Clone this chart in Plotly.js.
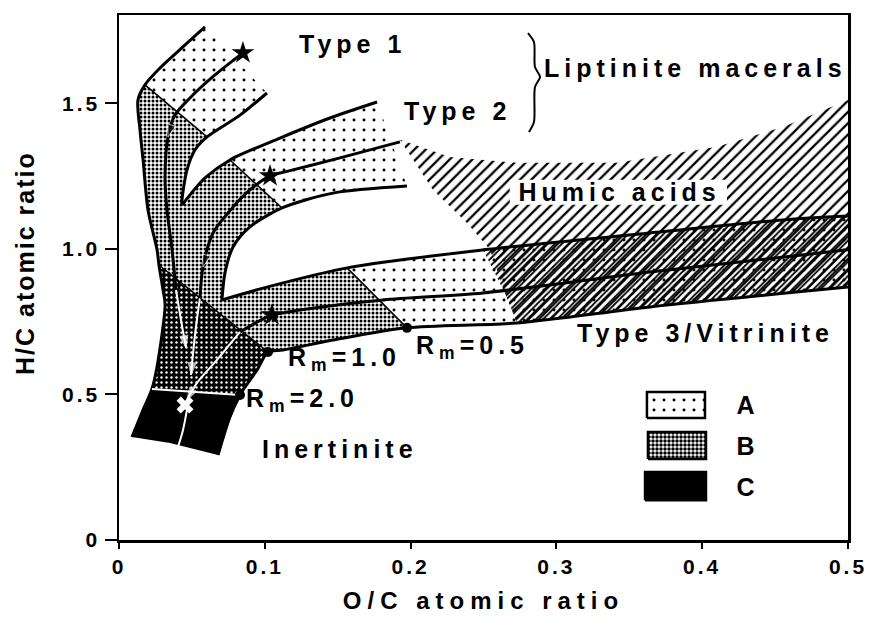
<!DOCTYPE html>
<html><head><meta charset="utf-8">
<script src="https://cdn.plot.ly/plotly-3.0.1.min.js"></script>
<style>
html,body{margin:0;padding:0;background:#fff;}
#chart{width:869px;height:626px;}
#chart .annotation-text{letter-spacing:5px;}
#chart .annotation[data-index="0"] .annotation-text{letter-spacing:2px;}
#chart .xtick text,#chart .ytick text{letter-spacing:3px;}
#chart .g-xtitle text{letter-spacing:6px;}
</style></head><body><div id="chart"></div>
<script>
// ---- boundary curves of the maturation bands (O/C, H/C) ----
const t1OuterX = [0.0590,0.0453,0.0281,0.0178,0.0130,0.0144,0.0165,0.0199,0.0261,0.0274,0.0302,0.0316,0.0261,0.0226,0.0165,0.0089];
const t1OuterY = [1.763,1.701,1.622,1.564,1.512,1.409,1.306,1.134,0.997,0.945,0.859,0.808,0.595,0.519,0.447,0.354];
const t1InnerX = [0.1015,0.0830,0.0604,0.0521,0.0466,0.0432,0.0432];
const t1InnerY = [1.536,1.460,1.385,1.340,1.271,1.168,1.151];
const t2UpperX = [0.1770,0.1447,0.1104,0.0761,0.0590,0.0487,0.0432];
const t2UpperY = [1.505,1.450,1.381,1.306,1.244,1.186,1.151];
const t2LowerX = [0.1975,0.1468,0.1118,0.0898,0.0782,0.0727,0.0706];
const t2LowerY = [1.216,1.192,1.141,1.076,1.007,0.918,0.825];
const t3UpperX = [0.0706,0.1015,0.1564,0.2497,0.3642,0.4554,0.5];
const t3UpperY = [0.825,0.869,0.935,0.997,1.055,1.100,1.113];
const t3LowerX = [0.5,0.3642,0.2730,0.1975,0.1468,0.1125,0.1022,0.0947,0.0850,0.0830,0.0761,0.0679];
const t3LowerY = [0.869,0.801,0.746,0.729,0.687,0.653,0.646,0.584,0.515,0.498,0.423,0.292];
const blackBottomX = [0.0350];
const blackBottomY = [0.333];
const bandHatchEdgeX = [0.2647];
const bandHatchEdgeY = [0.849];

// ---- evolution paths ----
const t1PathX = [0.0850,0.0658,0.0487,0.0384,0.0336,0.0316,0.0329,0.0364,0.0391];
const t1PathY = [1.674,1.598,1.519,1.460,1.385,1.247,1.134,0.997,0.859];
const t1PathLowX = [0.0391,0.0425,0.0460];
const t1PathLowY = [0.859,0.756,0.660];
const t2PathX = [0.1927,0.1516,0.1139,0.1036,0.0898,0.0782,0.0645,0.0576,0.0556];
const t2PathY = [1.368,1.313,1.265,1.251,1.203,1.144,1.055,0.938,0.835];
const t2PathLowX = [0.0556,0.0521,0.0494];
const t2PathLowY = [0.835,0.704,0.567];
const t3PathX = [0.5,0.3642,0.2497,0.1811,0.1241,0.1036,0.0830];
const t3PathY = [0.997,0.921,0.849,0.825,0.790,0.770,0.715];
const t3PathLowX = [0.0830,0.0672,0.0535,0.0466];
const t3PathLowY = [0.715,0.619,0.540,0.481];
const endPathX = [0.0466,0.0439,0.0405];
const endPathY = [0.447,0.378,0.320];

// ---- iso-reflectance (Rm) cross lines ----
const crossL1aX = [0.0178,0.0604], crossL1aY = [1.564,1.385];
const crossL1bX = [0.0761,0.1118], crossL1bY = [1.306,1.141];
const crossL1cX = [0.1564,0.1975], crossL1cY = [0.935,0.729];
const crossL2X = [0.0274,0.1022],  crossL2Y = [0.945,0.646];
const crossL3X = [0.0226,0.0830],  crossL3Y = [0.519,0.498];

// ---- humic acids field ----
const humicX = [0.1927,0.2270,0.2730,0.3416,0.4102,0.4554,0.5,0.5,0.3642,0.2730,0.2647,0.2545,0.2387,0.2154];
const humicY = [1.375,1.316,1.296,1.296,1.351,1.419,1.512,0.869,0.801,0.746,0.849,0.997,1.089,1.203];

// ---- markers ----
const starX = [0.0850,0.1036,0.1049];
const starY = [1.674,1.251,0.773];
const rmDotX = [0.1975,0.1022,0.0830];
const rmDotY = [0.729,0.646,0.498];
const endMarkX = [0.0453];
const endMarkY = [0.464];

// ---- brace ----
const braceX = [0.2805,0.2846,0.2853,0.2888,0.2853,0.2846,0.2812];
const braceY = [1.742,1.711,1.625,1.591,1.557,1.436,1.402];

// ---- legend boxes [x0,x1] / [y0,y1] ----
const legAx = [0.3621,0.4019], legAy = [0.419,0.5086];
const legBx = [0.3628,0.4026], legBy = [0.278,0.371];
const legCx = [0.3608,0.4026], legCy = [0.137,0.234];

// ---- text labels ----
const labelText = ['Type 1','Type 2','Liptinite macerals','Humic acids','Type 3/Vitrinite','R<sub>m</sub>=0.5','R<sub>m</sub>=1.0','R<sub>m</sub>=2.0','Inertinite','A','B','C'];
const labelX = [0.160,0.2325,0.3955,0.343,0.4025,0.2125,0.1245,0.096,0.1515,0.4239,0.4239,0.4239];
const labelY = [1.704,1.474,1.622,1.196,0.711,0.663,0.622,0.481,0.313,0.464,0.323,0.182];
const labelAnchor = ['center','center','center','center','center','left','left','left','center','left','left','left'];

// ---- axes ----
const xTickVals = [0,0.1,0.2,0.3,0.4,0.5];
const xTickText = ['0','0.1','0.2','0.3','0.4','0.5'];
const yTickVals = [0,0.5,1.0,1.5];
const yTickText = ['0','0.5','1.0','1.5'];
const xTitle = 'O/C atomic ratio';
const yTitle = 'H/C atomic ratio';

// helpers
function seg(xs, ys, i, j){ const px=[],py=[]; const st=i<=j?1:-1; for(let k=i;k!==j+st;k+=st){px.push(xs[k]);py.push(ys[k]);} return [px,py]; }
function poly(){ const X=[],Y=[]; for(const s of arguments){X.push(...s[0]);Y.push(...s[1]);} X.push(X[0]);Y.push(Y[0]); return [X,Y]; }
function rect(xr,yr){ return [[xr[0],xr[1],xr[1],xr[0],xr[0]],[yr[0],yr[0],yr[1],yr[1],yr[0]]]; }

const FONT = 'Liberation Sans, Arial, Helvetica, sans-serif';
const patA = {shape:'.', fgcolor:'#000', bgcolor:'rgba(255,255,255,0)', size:10, solidity:0.07, fillmode:'replace'};
const patB = {shape:'.', fgcolor:'#000', bgcolor:'#fff', size:4, solidity:0.45, fillmode:'replace'};
const patD = {shape:'.', fgcolor:'#fff', bgcolor:'#000', size:5, solidity:0.18, fillmode:'replace'};
const patH = {shape:'/', fgcolor:'#000', bgcolor:'#fff', size:8, solidity:0.28, fillmode:'replace'};
const patH2 = {shape:'/', fgcolor:'#000', bgcolor:'rgba(255,255,255,0)', size:5, solidity:0.35, fillmode:'replace'};

function area(p, pat, fc){ return {x:p[0], y:p[1], mode:'lines', fill:'toself', fillcolor:fc||'rgba(0,0,0,0)', fillpattern:pat, line:{width:0, color:'rgba(0,0,0,0)'}, hoverinfo:'skip', showlegend:false}; }
function line(xs, ys, w, c, shape){ return {x:xs, y:ys, mode:'lines', line:{width:w, color:c||'#000', shape:shape||'spline', smoothing:0.8}, hoverinfo:'skip', showlegend:false}; }
function arrowHead(xs, ys, col){ const n=xs.length; return {x:[xs[n-2],xs[n-1]], y:[ys[n-2],ys[n-1]], mode:'markers',
  marker:{symbol:'arrow', size:[0,13], angleref:'previous', color:col}, hoverinfo:'skip', showlegend:false}; }

const zoneA1 = poly(seg(t1OuterX,t1OuterY,0,3), seg(t1InnerX,t1InnerY,2,0));
const zoneA2 = poly(seg(t2UpperX,t2UpperY,0,3), seg(t2LowerX,t2LowerY,2,0));
const zoneA3 = poly(seg(t3UpperX,t3UpperY,2,6), seg(t3LowerX,t3LowerY,0,3));
const zoneB = poly(seg(t1OuterX,t1OuterY,3,9), seg(t3LowerX,t3LowerY,6,3), seg(t3UpperX,t3UpperY,2,0),
                   seg(t2LowerX,t2LowerY,6,2), seg(t2UpperX,t2UpperY,3,6), seg(t1InnerX,t1InnerY,6,2));
const zoneD1 = poly(seg(t1OuterX,t1OuterY,9,13), seg(t3LowerX,t3LowerY,9,6));
const zoneD2 = poly(seg(t1OuterX,t1OuterY,13,15), [blackBottomX,blackBottomY], seg(t3LowerX,t3LowerY,11,9));
const bandHatch = poly(seg(t3UpperX,t3UpperY,3,6), seg(t3LowerX,t3LowerY,0,2), [bandHatchEdgeX,bandHatchEdgeY]);
const humic = poly([humicX,humicY]);

const traces = [
  area(humic, patH),
  area(zoneA1, patA), area(zoneA2, patA), area(zoneA3, patA),
  area(bandHatch, patH2),
  area(zoneB, patB),
  area(zoneD1, patD, '#000'),
  area(zoneD2, null, '#000'),
  line(t1OuterX,t1OuterY,3), line(t1InnerX,t1InnerY,3), line(t2UpperX,t2UpperY,3), line(t2LowerX,t2LowerY,3),
  line(t3UpperX,t3UpperY,3), line(t3LowerX,t3LowerY,3),
  line(t1PathX,t1PathY,3), line(t2PathX,t2PathY,3), line(t3PathX,t3PathY,3),
  line(t1PathLowX,t1PathLowY,2,'#fff'), line(t2PathLowX,t2PathLowY,2,'#fff'), line(t3PathLowX,t3PathLowY,2,'#fff'), line(endPathX,endPathY,2,'#fff'),
  line(crossL1aX,crossL1aY,1.5,'#000','linear'), line(crossL1bX,crossL1bY,1.5,'#000','linear'), line(crossL1cX,crossL1cY,1.5,'#000','linear'),
  line(crossL2X,crossL2Y,1.5,'#000','linear'), line(crossL3X,crossL3Y,2,'#fff','linear'),
  line(braceX,braceY,2),
  arrowHead(t1PathX.slice(0,5), t1PathY.slice(0,5), '#000'),
  arrowHead(t2PathX.slice(0,8), t2PathY.slice(0,8), '#000'),
  arrowHead(t1PathLowX,t1PathLowY,'#fff'), arrowHead(t2PathLowX,t2PathLowY,'#fff'), arrowHead(t3PathLowX,t3PathLowY,'#fff'),
  {x:starX, y:starY, mode:'markers', marker:{symbol:'star', size:17, color:'#000'}, hoverinfo:'skip', showlegend:false},
  {x:rmDotX, y:rmDotY, mode:'markers', marker:{symbol:'circle', size:10, color:'#000'}, hoverinfo:'skip', showlegend:false},
  {x:endMarkX, y:endMarkY, mode:'markers', marker:{symbol:'x', size:15, color:'#fff'}, hoverinfo:'skip', showlegend:false},
];
// legend boxes
const rA = rect(legAx,legAy), rB = rect(legBx,legBy), rC = rect(legCx,legCy);
traces.push({x:rA[0],y:rA[1],mode:'lines',fill:'toself',fillcolor:'rgba(0,0,0,0)',fillpattern:patA,line:{width:2.5,color:'#000'},hoverinfo:'skip',showlegend:false});
traces.push({x:rB[0],y:rB[1],mode:'lines',fill:'toself',fillcolor:'rgba(0,0,0,0)',fillpattern:{shape:'.',fgcolor:'#000',bgcolor:'#fff',size:4,solidity:0.6,fillmode:'replace'},line:{width:2.5,color:'#000'},hoverinfo:'skip',showlegend:false});
traces.push({x:rC[0],y:rC[1],mode:'lines',fill:'toself',fillcolor:'#000',line:{width:2.5,color:'#000'},hoverinfo:'skip',showlegend:false});

const annotations = [{
  x:-0.129, y:0.5276, xref:'paper', yref:'paper', text:yTitle, showarrow:false, textangle:-90,
  xanchor:'center', yanchor:'middle', font:{family:FONT, size:25, color:'#000', weight:'bold'}
}];
labelText.forEach((t,i)=>annotations.push({
  x:labelX[i], y:labelY[i], xref:'x', yref:'y', text:t, showarrow:false,
  xanchor:labelAnchor[i], yanchor:'middle',
  font:{family:FONT, size:25, color:'#000', weight:'bold'}
}));

const axisCommon = {showline:true, linewidth:2.5, linecolor:'#000', mirror:true, showgrid:false, zeroline:false,
  ticks:'outside', tickwidth:2, tickcolor:'#000', tickfont:{family:FONT, size:21, color:'#000', weight:'bold'}};

const layout = {
  width:869, height:626,
  margin:{l:119, r:21, t:15, b:86},
  paper_bgcolor:'#fff', plot_bgcolor:'#fff',
  showlegend:false,
  xaxis:Object.assign({}, axisCommon, {range:[0,0.5], tickvals:xTickVals, ticktext:xTickText, ticklen:6,
    title:{text:xTitle, font:{family:FONT, size:24, color:'#000', weight:'bold'}, standoff:16}}),
  yaxis:Object.assign({}, axisCommon, {range:[0,1.804], tickvals:yTickVals, ticktext:yTickText, ticklen:12}),
  shapes:[{type:'rect', xref:'x', yref:'y', x0:0.268, x1:0.417, y0:1.152, y1:1.238, fillcolor:'#fff', line:{width:0}, layer:'above'}],
  annotations:annotations
};
Plotly.newPlot('chart', traces, layout, {staticPlot:true, displayModeBar:false});
</script></body></html>
